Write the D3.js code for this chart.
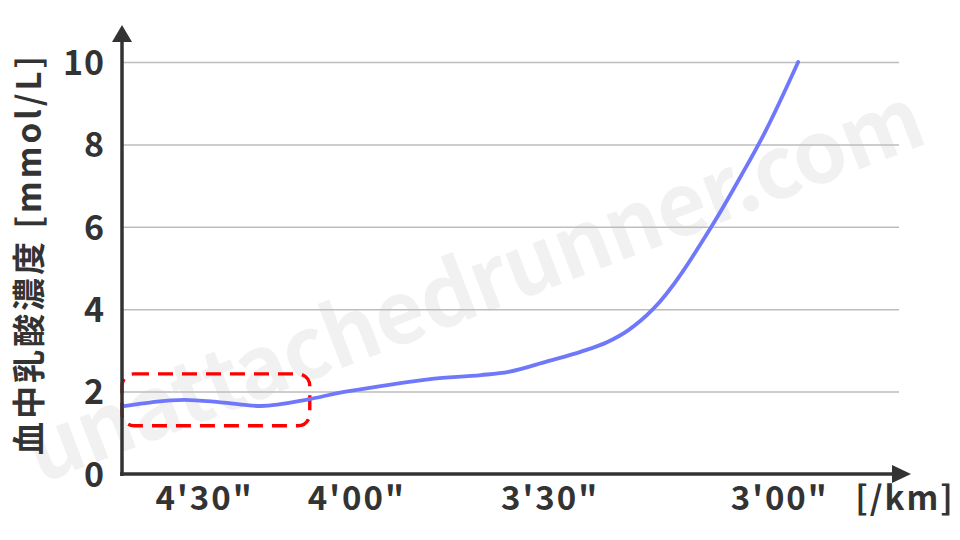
<!DOCTYPE html>
<html>
<head>
<meta charset="utf-8">
<script src="https://cdn.jsdelivr.net/npm/d3@7"></script>
<style>
  body { margin: 0; background: #fff; }
  svg { display: block; }
  svg text { font-family: "Noto Sans CJK JP", "Noto Sans", sans-serif; }
  .tick text { fill: #333; font-weight: 700; }
</style>
</head>
<body>
<svg id="chart" width="960" height="540"></svg>
<script>
// x is a position along the pace axis (0..100), y is lactate in mmol/L
var paceX = [0, 3.7, 7.9, 12.5, 17.6, 23.6, 27.5, 33, 39.3, 45.5, 49, 54, 58.2, 61.6, 64.1, 67.3, 74.7, 78.5, 81.5, 85.7];
var lactate = [1.64, 1.74, 1.8, 1.74, 1.65, 1.81, 1.97, 2.14, 2.31, 2.4, 2.48, 2.74, 2.97, 3.21, 3.48, 4.0, 6.0, 7.25, 8.3, 10];

var yTicks = [0, 2, 4, 6, 8, 10];
var gridTicks = [2, 4, 6, 8, 10];
var xTickPos = [10.4, 29.7, 54.2, 83.3];
var xTickLabels = ["4'30\"", "4'00\"", "3'30\"", "3'00\""];

// highlighted low-intensity zone
var zoneX = [0, 23.8];
var zoneY = [1.17, 2.43];

var svg = d3.select("#chart"),
    margin = {top: 62, right: 49, bottom: 66, left: 122},
    w = +svg.attr("width") - margin.left - margin.right,
    h = +svg.attr("height") - margin.top - margin.bottom;

var x = d3.scaleLinear().domain([0, 100]).range([0, w]);
var y = d3.scaleLinear().domain([0, 10]).range([h, 0]);

// watermark
svg.append("text")
    .attr("transform", "translate(40,484) rotate(-21)")
    .attr("font-size", 86)
    .attr("font-weight", 700)
    .attr("letter-spacing", -1)
    .attr("fill", "#000")
    .attr("fill-opacity", 0.055)
    .text("unattachedrunner.com");

var g = svg.append("g")
    .attr("transform", "translate(" + margin.left + "," + margin.top + ")");

// grid
g.append("g")
    .call(d3.axisLeft(y).tickValues(gridTicks).tickSize(-(w - 12)).tickFormat(""))
    .call(function(s) { s.select(".domain").remove(); })
    .selectAll("line")
      .attr("stroke", "#bdbdbd")
      .attr("stroke-width", 1.5);

// y labels
g.append("g")
    .call(d3.axisLeft(y).tickValues(yTicks).tickSize(0).tickPadding(17))
    .attr("font-family", null)
    .call(function(s) { s.select(".domain").remove(); })
    .selectAll("text")
      .attr("font-size", 34)
      .attr("letter-spacing", 1)
      .attr("dy", "0.36em");

// x labels
g.append("g")
    .attr("transform", "translate(0," + h + ")")
    .call(d3.axisBottom(x).tickValues(xTickPos).tickSize(0).tickPadding(13)
      .tickFormat(function(d, i) { return xTickLabels[i]; }))
    .attr("font-family", null)
    .call(function(s) { s.select(".domain").remove(); })
    .selectAll("text")
      .attr("font-size", 33)
      .attr("letter-spacing", 2);

// dashed zone
g.append("rect")
    .attr("x", x(zoneX[0]))
    .attr("y", y(zoneY[1]))
    .attr("width", x(zoneX[1]) - x(zoneX[0]))
    .attr("height", y(zoneY[0]) - y(zoneY[1]))
    .attr("rx", 12)
    .attr("fill", "none")
    .attr("stroke", "#ff0000")
    .attr("stroke-width", 3.4)
    .attr("stroke-dasharray", "15,9");

// lactate curve
var line = d3.line()
    .x(function(d, i) { return x(paceX[i]); })
    .y(function(d) { return y(d); })
    .curve(d3.curveMonotoneX);

g.append("path")
    .datum(lactate)
    .attr("fill", "none")
    .attr("stroke", "#6f78fa")
    .attr("stroke-width", 3.8)
    .attr("stroke-linecap", "round")
    .attr("d", line);

// axes with arrows
g.append("line")
    .attr("x1", 0).attr("x2", 0)
    .attr("y1", h + 2).attr("y2", -22)
    .attr("stroke", "#333").attr("stroke-width", 3.5);
g.append("path")
    .attr("d", "M0,-37L-10,-20L10,-20Z")
    .attr("fill", "#333");

g.append("line")
    .attr("x1", -2).attr("x2", w - 16)
    .attr("y1", h).attr("y2", h)
    .attr("stroke", "#333").attr("stroke-width", 3.5);
g.append("path")
    .attr("d", "M" + w + "," + h + "L" + (w - 19) + "," + (h - 9) + "L" + (w - 19) + "," + (h + 9) + "Z")
    .attr("fill", "#333");

// axis titles
svg.append("text")
    .attr("transform", "translate(29,254) rotate(-90)")
    .attr("text-anchor", "middle")
    .attr("dy", "0.35em")
    .attr("font-size", 33)
    .attr("font-weight", 700)
    .attr("fill", "#333")
    .attr("letter-spacing", 3)
    .text("血中乳酸濃度 [mmol/L]");

svg.append("text")
    .attr("x", 905)
    .attr("y", h + margin.top + 13)
    .attr("dy", "0.71em")
    .attr("text-anchor", "middle")
    .attr("font-size", 33)
    .attr("font-weight", 700)
    .attr("fill", "#333")
    .attr("letter-spacing", 2)
    .text("[/km]");
</script>
</body>
</html>
